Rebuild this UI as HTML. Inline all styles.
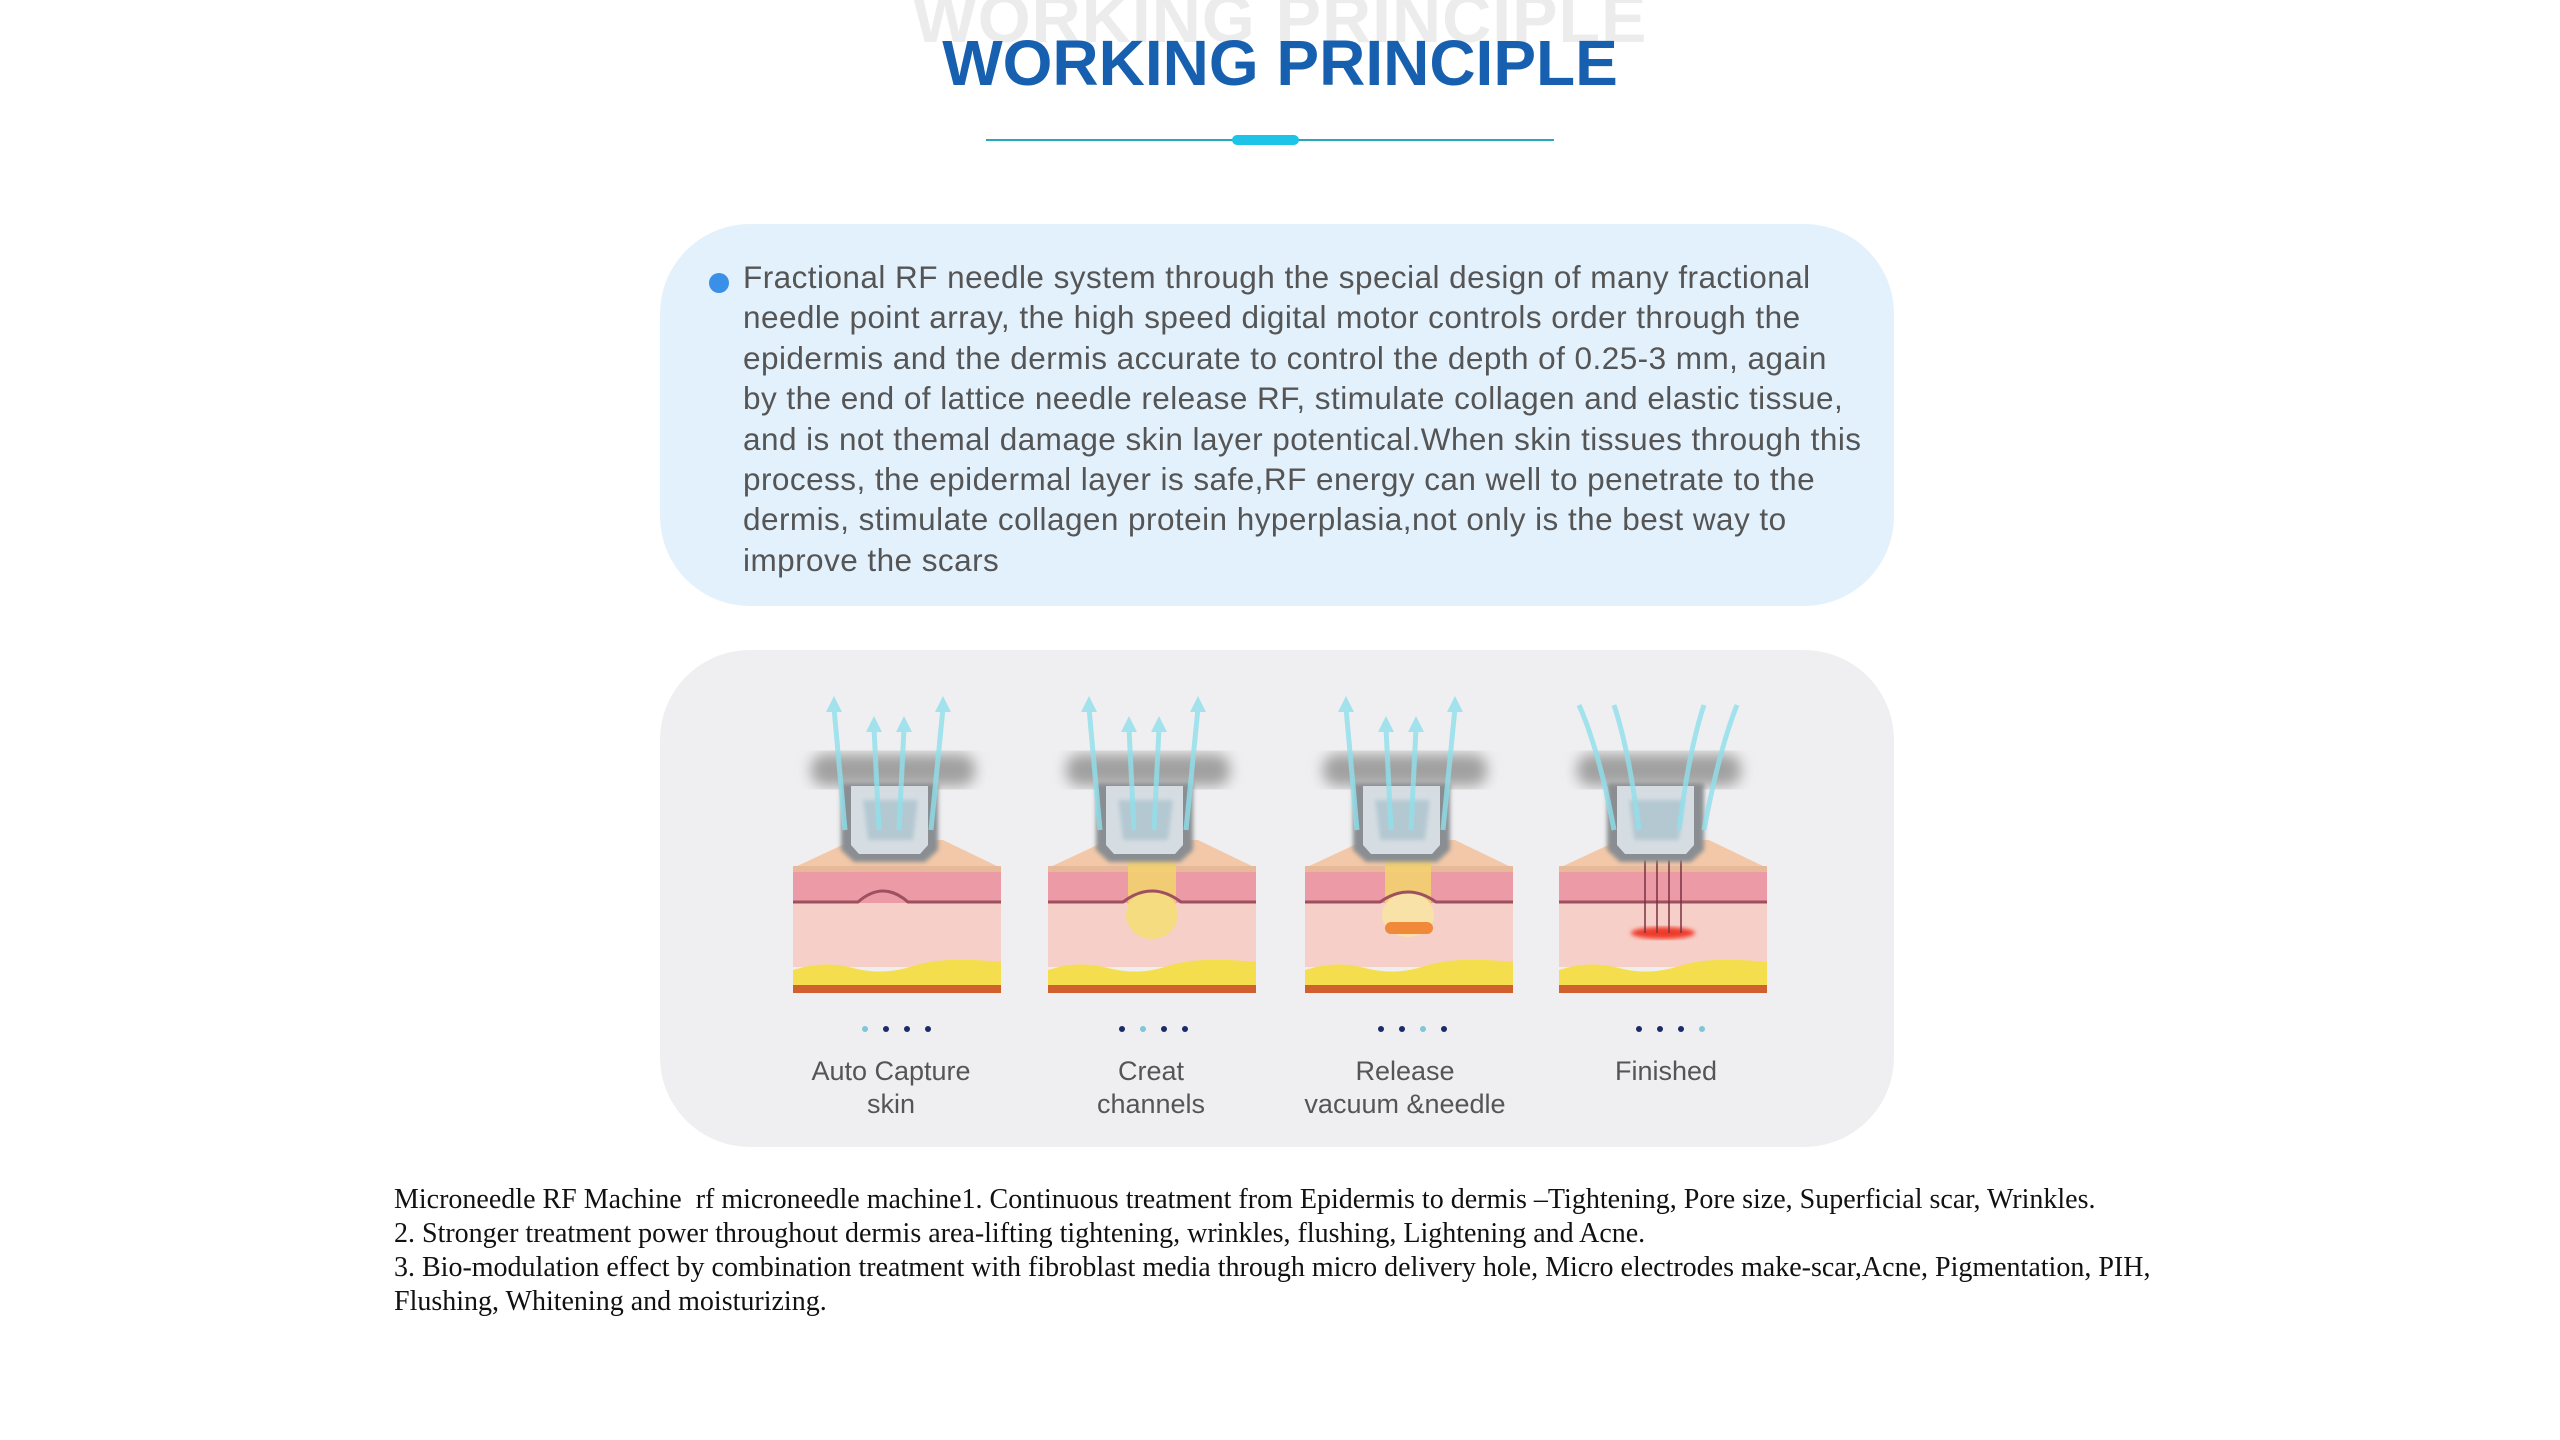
<!DOCTYPE html>
<html><head><meta charset="utf-8">
<style>
html,body{margin:0;padding:0;background:#fff;}
body{width:2560px;height:1440px;position:relative;overflow:hidden;}
.abs{position:absolute;}
.wm{left:0;width:2560px;top:-20px;text-align:center;font:bold 68px "Liberation Sans",sans-serif;color:#ececec;letter-spacing:1px;}
.title{left:0;width:2560px;top:26px;text-align:center;font:bold 64px "Liberation Sans",sans-serif;color:#1760b0;}
.p1{left:743px;top:257px;font:31.5px/40.4px "Liberation Sans",sans-serif;color:#555;white-space:nowrap;letter-spacing:0.45px;}
.lab{font:27px/33px "Liberation Sans",sans-serif;color:#555;text-align:center;width:300px;}
.bt{left:394px;top:1183px;font:28px/34px "Liberation Serif",serif;color:#111;white-space:nowrap;}
</style></head><body>
<div class="abs wm">WORKING PRINCIPLE</div>
<div class="abs title">WORKING PRINCIPLE</div>
<div class="abs" style="left:986px;top:139px;width:568px;height:2px;background:#2aa5c0"></div>
<div class="abs" style="left:1232px;top:135px;width:67px;height:10px;border-radius:5px;background:#1ec4e8"></div>

<div class="abs" style="left:660px;top:224px;width:1234px;height:382px;border-radius:90px;background:#e3f1fc"></div>
<div class="abs" style="left:709px;top:273px;width:20px;height:20px;border-radius:50%;background:#3a8fe6"></div>
<div class="abs p1">Fractional RF needle system through the special design of many fractional<br>needle point array, the high speed digital motor controls order through the<br>epidermis and the dermis accurate to control the depth of 0.25-3 mm, again<br>by the end of lattice needle release RF, stimulate collagen and elastic tissue,<br>and is not themal damage skin layer potentical.When skin tissues through this<br>process, the epidermal layer is safe,RF energy can well to penetrate to the<br>dermis, stimulate collagen protein hyperplasia,not only is the best way to<br>improve the scars</div>

<div class="abs" style="left:660px;top:650px;width:1234px;height:497px;border-radius:90px;background:#efeff1"></div>

<svg class="abs" style="left:0;top:0" width="2560" height="1440">
<defs>
<filter id="bl"><feGaussianBlur stdDeviation="7"/></filter>
<filter id="bl2"><feGaussianBlur stdDeviation="2"/></filter>
<g id="skin">
  <polygon points="0,178 60,150 150,150 208,178" fill="#f2c8a8"/>
  <rect x="0" y="176" width="208" height="6" fill="#e8b89a"/>
  <rect x="0" y="182" width="208" height="32" fill="#ec9aa5"/>
  <rect x="0" y="213" width="208" height="64" fill="#f6cfc8"/>
  <path d="M0,280 Q30,270 60,278 T120,276 T208,272 L208,297 L0,297Z" fill="#f4de4e"/>
  <rect x="0" y="295" width="208" height="8" fill="#d0602e"/>
</g>
<g id="body">
  <rect x="18" y="64" width="164" height="32" rx="14" fill="#a0a0a0" filter="url(#bl)"/>
  <path d="M48,93 L145,93 L145,160 L132,172 L61,172 L48,160Z" fill="#8a8e92" filter="url(#bl2)"/>
  <path d="M58,96 L135,96 L135,155 L127,164 L66,164 L58,155Z" fill="#d6dde2"/>
  <path d="M70,110 L125,110 L120,150 L75,150Z" fill="#b4c8d2" filter="url(#bl2)"/>
</g>
<g id="dev">
  <use href="#body"/>
  <g stroke="#8fe0ec" stroke-width="5" fill="#8fe0ec" opacity="0.8">
    <line x1="41" y1="18" x2="52" y2="140"/><line x1="81" y1="38" x2="86" y2="140"/>
    <line x1="111" y1="38" x2="106" y2="140"/><line x1="150" y1="18" x2="138" y2="140"/>
    <polygon points="41,6 33,22 49,22" stroke="none"/><polygon points="81,26 73,42 89,42" stroke="none"/>
    <polygon points="111,26 103,42 119,42" stroke="none"/><polygon points="150,6 142,22 158,22" stroke="none"/>
  </g>
</g>
</defs>
<g transform="translate(793,690)">
  <use href="#skin"/>
  <path d="M0,212 L65,212 Q90,190 115,212 L208,212" stroke="#9c5060" stroke-width="3" fill="none"/>
  <use href="#dev"/>
</g>
<g transform="translate(1048,690)">
  <use href="#skin"/>
  <rect x="80" y="170" width="48" height="62" fill="#f3d070" opacity="0.9"/>
  <ellipse cx="104" cy="225" rx="26" ry="24" fill="#f6dc80"/>
  <path d="M0,212 L75,212 Q104,190 133,212 L208,212" stroke="#9c5060" stroke-width="3" fill="none"/>
  <use href="#dev"/>
</g>
<g transform="translate(1305,690)">
  <use href="#skin"/>
  <rect x="80" y="170" width="46" height="45" fill="#f3d070" opacity="0.9"/>
  <ellipse cx="103" cy="225" rx="26" ry="22" fill="#f8e2a8"/>
  <rect x="80" y="232" width="48" height="12" rx="6" fill="#f08a3a"/>
  <path d="M0,212 L75,212 Q103,192 131,212 L208,212" stroke="#9c5060" stroke-width="3" fill="none"/>
  <use href="#dev"/>
</g>
<g transform="translate(1559,690)">
  <use href="#skin"/>
  <path d="M0,212 L208,212" stroke="#9c5060" stroke-width="3"/>
  <ellipse cx="104" cy="243" rx="32" ry="6" fill="#f03a2a" filter="url(#bl2)"/>
  <g stroke="#7a3040" stroke-width="1.5"><line x1="86" y1="170" x2="86" y2="243"/><line x1="98" y1="170" x2="98" y2="243"/><line x1="110" y1="170" x2="110" y2="243"/><line x1="122" y1="170" x2="122" y2="243"/></g>
  <use href="#body"/>
  <g stroke="#8fe0ec" stroke-width="5" fill="none" opacity="0.8">
    <path d="M55,140 Q40,60 20,15"/><path d="M80,140 Q70,60 55,15"/><path d="M120,140 Q130,60 145,15"/><path d="M145,140 Q160,60 178,15"/>
  </g>
</g>
<g>
  <circle cx="865" cy="1029" r="3" fill="#7ec6d8"/><circle cx="886" cy="1029" r="3" fill="#1b2a6a"/><circle cx="907" cy="1029" r="3" fill="#1b2a6a"/><circle cx="928" cy="1029" r="3" fill="#1b2a6a"/>
  <circle cx="1122" cy="1029" r="3" fill="#1b2a6a"/><circle cx="1143" cy="1029" r="3" fill="#7ec6d8"/><circle cx="1164" cy="1029" r="3" fill="#1b2a6a"/><circle cx="1185" cy="1029" r="3" fill="#1b2a6a"/>
  <circle cx="1381" cy="1029" r="3" fill="#1b2a6a"/><circle cx="1402" cy="1029" r="3" fill="#1b2a6a"/><circle cx="1423" cy="1029" r="3" fill="#7ec6d8"/><circle cx="1444" cy="1029" r="3" fill="#1b2a6a"/>
  <circle cx="1639" cy="1029" r="3" fill="#1b2a6a"/><circle cx="1660" cy="1029" r="3" fill="#1b2a6a"/><circle cx="1681" cy="1029" r="3" fill="#1b2a6a"/><circle cx="1702" cy="1029" r="3" fill="#7ec6d8"/>
</g>
</svg>

<div class="abs lab" style="left:741px;top:1055px">Auto Capture<br>skin</div>
<div class="abs lab" style="left:1001px;top:1055px">Creat<br>channels</div>
<div class="abs lab" style="left:1255px;top:1055px">Release<br>vacuum &amp;needle</div>
<div class="abs lab" style="left:1516px;top:1055px">Finished</div>

<div class="abs bt">Microneedle RF Machine&nbsp; rf microneedle machine1. Continuous treatment from Epidermis to dermis –Tightening, Pore size, Superficial scar, Wrinkles.<br>2. Stronger treatment power throughout dermis area-lifting tightening, wrinkles, flushing, Lightening and Acne.<br>3. Bio-modulation effect by combination treatment with fibroblast media through micro delivery hole, Micro electrodes make-scar,Acne, Pigmentation, PIH,<br>Flushing, Whitening and moisturizing.</div>
</body></html>
